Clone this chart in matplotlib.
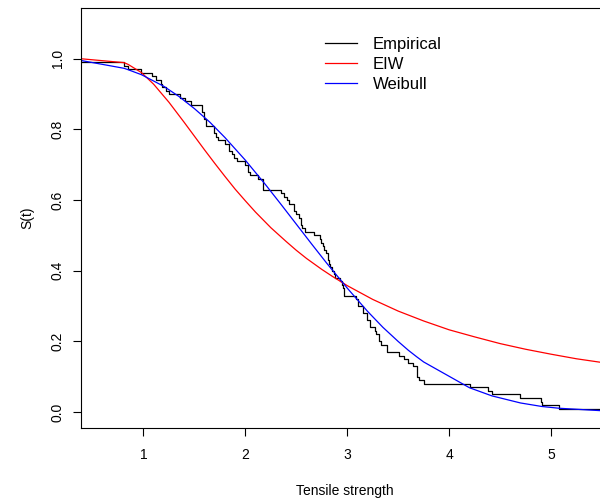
import matplotlib
matplotlib.use("Agg")
import matplotlib.pyplot as plt
import numpy as np

plt.rcParams['font.family'] = ['Liberation Sans', 'DejaVu Sans']

# Tensile strength observations (empirical survival steps)
tensile = [3.70, 2.74, 2.73, 2.50, 3.60, 3.11, 3.27, 2.87, 1.47, 3.11,
           4.42, 2.41, 3.19, 3.22, 1.69, 3.28, 3.09, 1.87, 3.15, 4.90,
           3.75, 2.43, 2.95, 2.97, 3.39, 2.96, 2.53, 2.67, 2.93, 3.22,
           3.39, 2.81, 4.20, 3.33, 2.55, 3.31, 3.31, 2.85, 2.56, 3.56,
           3.15, 2.35, 2.55, 2.59, 2.38, 2.81, 2.77, 2.17, 2.83, 1.92,
           1.41, 3.68, 2.97, 1.36, 0.98, 2.76, 4.91, 3.68, 1.84, 1.59,
           3.19, 1.57, 0.81, 5.56, 1.73, 1.59, 2.00, 1.22, 1.12, 1.71,
           2.17, 1.17, 5.08, 2.48, 1.18, 3.51, 2.17, 1.69, 1.25, 4.38,
           1.84, 0.39, 3.68, 2.48, 0.85, 1.61, 2.79, 4.70, 2.03, 1.80,
           1.57, 1.08, 2.03, 1.61, 2.12, 1.89, 2.88, 2.82, 2.05, 3.65]

# EIW fitted survival
eiw_x = [0.39, 0.81, 0.85, 0.98, 1.10, 1.25, 1.40, 1.60, 1.70, 1.80,
         1.90, 2.00, 2.10, 2.25, 2.40, 2.50, 2.60, 2.75, 2.85, 3.00,
         3.25, 3.50, 3.75, 4.00, 4.25, 4.50, 4.75, 5.00, 5.25, 5.56]
eiw_s = [1.000, 0.989, 0.984, 0.961, 0.928, 0.877, 0.820, 0.742, 0.704, 0.667,
         0.631, 0.598, 0.566, 0.522, 0.483, 0.458, 0.435, 0.404, 0.385, 0.358,
         0.319, 0.286, 0.258, 0.233, 0.213, 0.194, 0.178, 0.164, 0.151, 0.138]

# Weibull fitted survival
weib_x = [0.39, 0.81, 0.85, 0.98, 1.20, 1.35, 1.50, 1.65, 1.80, 2.00,
          2.20, 2.35, 2.50, 2.65, 2.80, 3.00, 3.20, 3.35, 3.50, 3.60,
          3.68, 3.75, 4.20, 4.42, 4.70, 4.91, 5.08, 5.56]
weib_s = [0.995, 0.973, 0.969, 0.955, 0.922, 0.893, 0.859, 0.821, 0.777, 0.713,
          0.643, 0.588, 0.532, 0.476, 0.421, 0.351, 0.285, 0.240, 0.200, 0.175,
          0.157, 0.142, 0.069, 0.046, 0.026, 0.016, 0.011, 0.003]

fig = plt.figure(figsize=(6.0, 4.99), dpi=100)
ax = fig.add_axes([0.1355, 0.1429, 0.878, 0.8413])

xs = np.sort(np.array(tensile))
n = len(xs)
surv = 1.0 - np.arange(1, n + 1) / n
ax.step(xs, surv, where='post', color='black', lw=0.9, label='Empirical')
ax.plot(eiw_x, eiw_s, color='#FF0000', lw=0.9, label='EIW')
ax.plot(weib_x, weib_s, color='#0000FF', lw=0.9, label='Weibull')

ax.set_xlim(0.39, 5.56)
ax.set_ylim(-0.044, 1.144)

ax.spines['right'].set_visible(False)
for s in ['left', 'bottom', 'top']:
    ax.spines[s].set_linewidth(0.8)

ax.set_xticks([1, 2, 3, 4, 5])
ax.set_xticklabels(['1', '2', '3', '4', '5'])
ax.set_yticks([0.0, 0.2, 0.4, 0.6, 0.8, 1.0])
ax.set_yticklabels(['0.0', '0.2', '0.4', '0.6', '0.8', '1.0'], rotation=90, va='center')
ax.tick_params(axis='both', length=5.8, width=0.8, labelsize=10)
ax.tick_params(axis='x', pad=9)
ax.tick_params(axis='y', pad=6)

ax.set_xlabel('Tensile strength', fontsize=10, labelpad=16)
ax.set_ylabel('S(t)', fontsize=10, labelpad=12)

leg = ax.legend(loc='upper left', bbox_to_anchor=(0.4625, 0.931), frameon=False,
                fontsize=12, handlelength=1.9, handletextpad=0.95,
                labelspacing=0.31, borderpad=0, borderaxespad=0)

fig.savefig('out.png', dpi=100)
